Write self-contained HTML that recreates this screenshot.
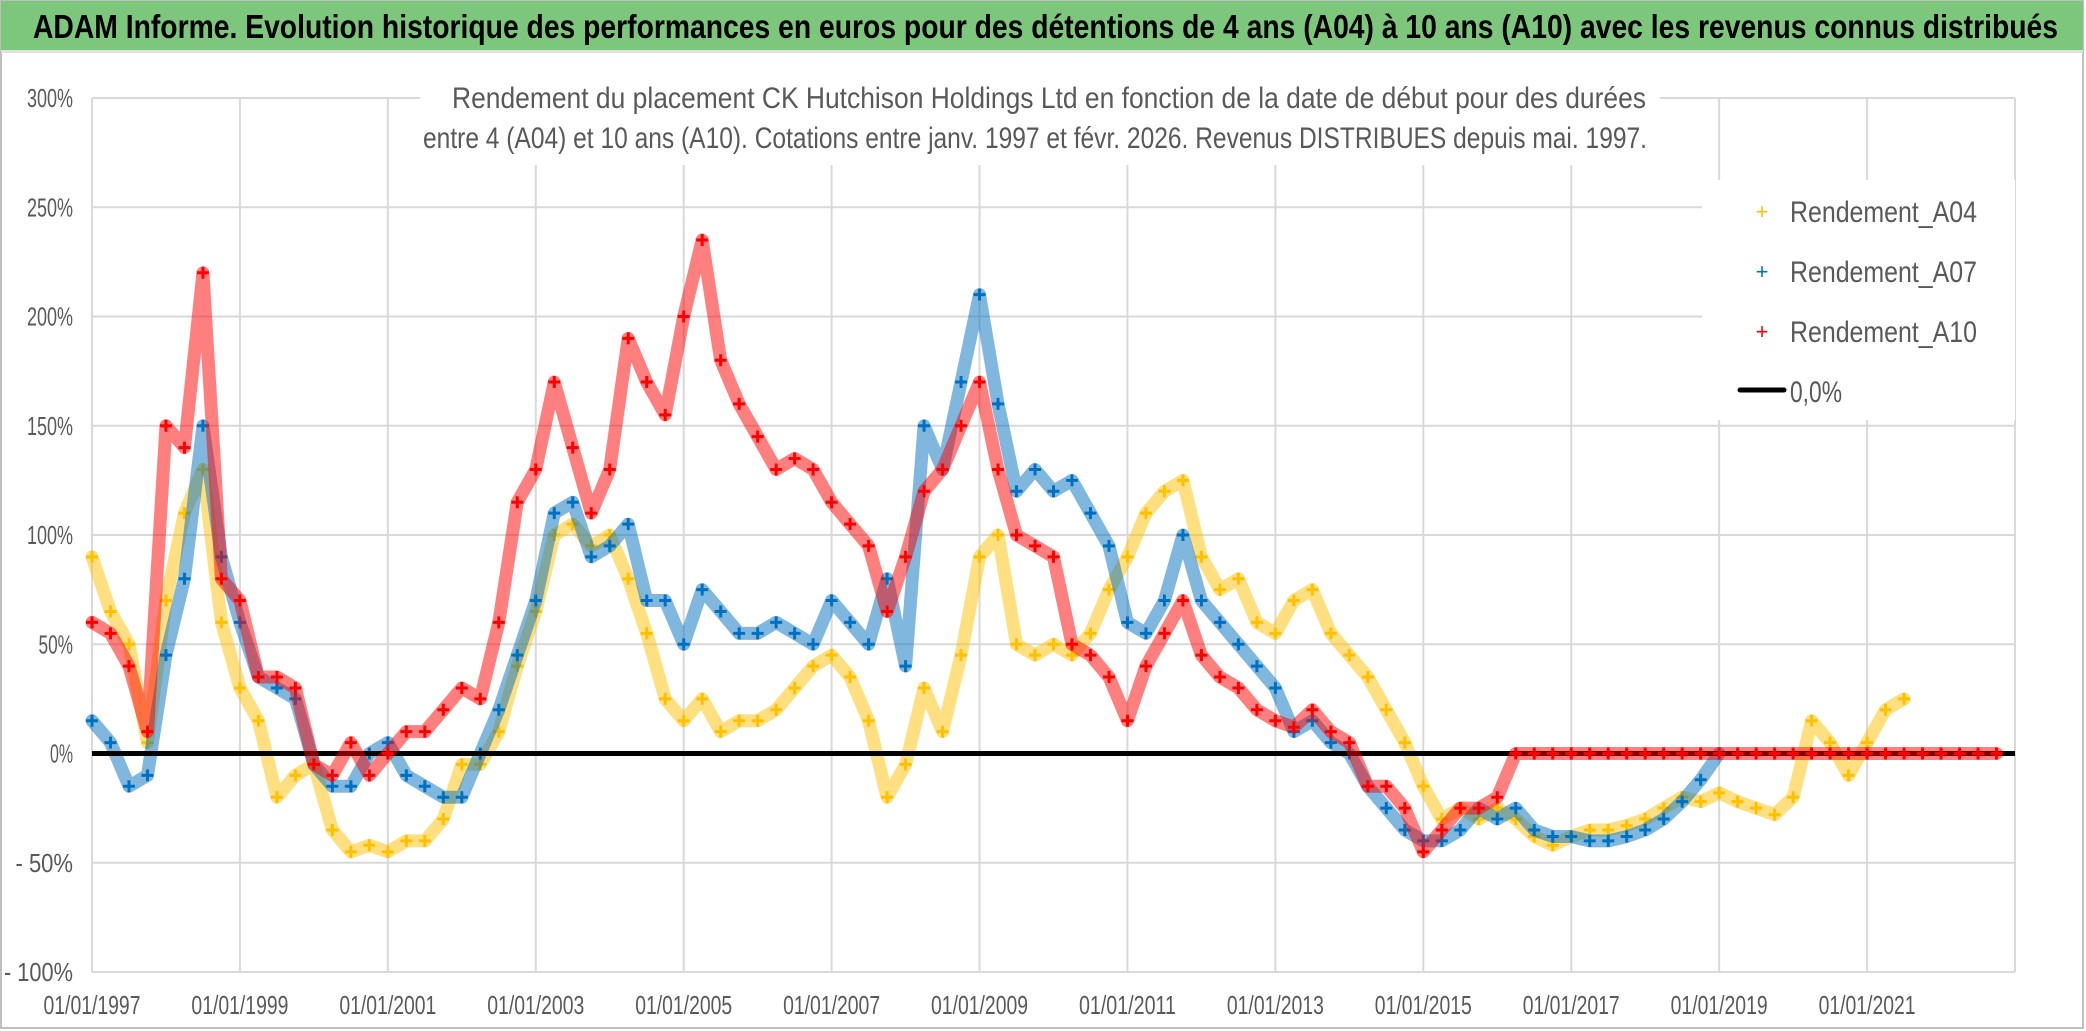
<!DOCTYPE html>
<html><head><meta charset="utf-8"><style>
html,body{margin:0;padding:0;background:#fff;}
svg{display:block;font-family:"Liberation Sans Narrow","Liberation Sans",sans-serif;}
</style></head><body>
<svg id="chart" width="2086" height="1031" viewBox="0 0 2086 1031" xmlns="http://www.w3.org/2000/svg">
<rect x="1" y="1" width="2082" height="1027" fill="#fff" stroke="#bfbfbf" stroke-width="2"/>
<rect x="1" y="1" width="2082" height="49" fill="#7dc77d"/>
<rect x="1" y="50" width="2082" height="3" fill="#e0e0e0"/>
<text x="33" y="38" font-size="33" font-weight="bold" fill="#000" textLength="2025" lengthAdjust="spacingAndGlyphs">ADAM Informe. Evolution historique des performances en euros pour des détentions de 4 ans (A04) à 10 ans (A10) avec les revenus connus distribués</text>
<g id="grid"></g>
<g id="yaxis"></g>
<g id="xaxis"></g>
<rect x="420" y="70" width="1240" height="95" fill="#fff"/>
<text x="1049" y="108" font-size="30" fill="#595959" text-anchor="middle" textLength="1194" lengthAdjust="spacingAndGlyphs">Rendement du placement CK Hutchison Holdings Ltd en fonction de la date de début pour des durées</text>
<text x="1035" y="148" font-size="30" fill="#595959" text-anchor="middle" textLength="1224" lengthAdjust="spacingAndGlyphs">entre 4 (A04) et 10 ans (A10). Cotations entre janv. 1997 et févr. 2026. Revenus DISTRIBUES depuis mai. 1997.</text>
<g id="series"></g>
<g>
<rect x="1702" y="180" width="313" height="240" fill="#fff"/>
<g><text x="1762" y="219" font-size="22" fill="#ffc000" text-anchor="middle">+</text><text x="1790" y="222" font-size="30" fill="#595959" textLength="187" lengthAdjust="spacingAndGlyphs">Rendement_A04</text></g>
<g><text x="1762" y="279" font-size="22" fill="#0070c0" text-anchor="middle">+</text><text x="1790" y="282" font-size="30" fill="#595959" textLength="187" lengthAdjust="spacingAndGlyphs">Rendement_A07</text></g>
<g><text x="1762" y="339" font-size="22" fill="#ff0000" text-anchor="middle">+</text><text x="1790" y="342" font-size="30" fill="#595959" textLength="187" lengthAdjust="spacingAndGlyphs">Rendement_A10</text></g>
<g><line x1="1740" y1="390" x2="1784" y2="390" stroke="#000" stroke-width="5" stroke-linecap="round"/><text x="1790" y="402" font-size="30" fill="#595959" textLength="52" lengthAdjust="spacingAndGlyphs">0,0%</text></g>
</g>
</svg>
<script>
const startYear = 1997;
const stepYear = 0.25;
const yTickValues = [300, 250, 200, 150, 100, 50, 0, -50, -100];
const yTickLabels = ["300%", "250%", "200%", "150%", "100%", "50%", "0%", "- 50%", "- 100%"];
const xTickYears = [1997, 1999, 2001, 2003, 2005, 2007, 2009, 2011, 2013, 2015, 2017, 2019, 2021, 2023];
const xTickLabels = ["01/01/1997", "01/01/1999", "01/01/2001", "01/01/2003", "01/01/2005", "01/01/2007", "01/01/2009", "01/01/2011", "01/01/2013", "01/01/2015", "01/01/2017", "01/01/2019", "01/01/2021", ""];
const rendementA04 = [90,65,50,5,70,110,130,60,30,15,-20,-10,-5,-35,-45,-42,-45,-40,-40,-30,-5,-5,10,40,65,100,105,95,100,80,55,25,15,25,10,15,15,20,30,40,45,35,15,-20,-5,30,10,45,90,100,50,45,50,45,55,75,90,110,120,125,90,75,80,60,55,70,75,55,45,35,20,5,-15,-30,-25,-30,-25,-30,-38,-42,-38,-35,-35,-33,-30,-25,-20,-22,-18,-22,-25,-28,-20,15,5,-10,5,20,25];
const rendementA07 = [15,5,-15,-10,45,80,150,90,60,35,30,25,-5,-15,-15,0,5,-10,-15,-20,-20,0,20,45,70,110,115,90,95,105,70,70,50,75,65,55,55,60,55,50,70,60,50,80,40,150,130,170,210,160,120,130,120,125,110,95,60,55,70,100,70,60,50,40,30,10,15,5,0,-15,-25,-35,-40,-40,-35,-25,-30,-25,-35,-38,-38,-40,-40,-38,-35,-30,-22,-12,0];
const rendementA10 = [60,55,40,10,150,140,220,80,70,35,35,30,-5,-10,5,-10,0,10,10,20,30,25,60,115,130,170,140,110,130,190,170,155,200,235,180,160,145,130,135,130,115,105,95,65,90,120,130,150,170,130,100,95,90,50,45,35,15,40,55,70,45,35,30,20,15,12,20,10,5,-15,-15,-25,-45,-35,-25,-25,-20,0,0,0,0,0,0,0,0,0,0,0,0,0,0,0,0,0,0,0,0,0,0,0,0,0,0,0];

const NS = "http://www.w3.org/2000/svg";
const X0 = 92, X1 = 2015, Y0 = 98, Y1 = 972;
function xScale(yr){ return X0 + (yr - 1997) * (X1 - X0) / 26; }
function yScale(v){ return Y1 - (v + 100) * (Y1 - Y0) / 400; }
function mk(tag, attrs, parent){ const e = document.createElementNS(NS, tag); for (const k in attrs) e.setAttribute(k, attrs[k]); parent.appendChild(e); return e; }

const grid = document.getElementById('grid');
yTickValues.forEach(v => {
  const l = mk('line', {x1:X0, x2:X1, y1:yScale(v), y2:yScale(v), stroke:'#d9d9d9', 'stroke-width':2}, grid);
  
  
});
xTickYears.forEach(yr => {
  const l = mk('line', {x1:xScale(yr), x2:xScale(yr), y1:Y0, y2:Y1, stroke:'#d9d9d9', 'stroke-width':2}, grid);
  
  
});
const yaxis = document.getElementById('yaxis');
yTickValues.forEach((v, i) => {
  const lab = yTickLabels[i];
  const t = mk('text', {x:73, y:yScale(v) + 9, 'font-size':26, fill:'#595959', 'text-anchor':'end', textLength: lab.length * 11.5, lengthAdjust:'spacingAndGlyphs'}, yaxis);
  t.textContent = lab;
  
  
});
const xaxis = document.getElementById('xaxis');
xTickYears.forEach((yr, i) => {
  if (!xTickLabels[i]) return;
  const t = mk('text', {x:xScale(yr), y:1014, 'font-size':26, fill:'#595959', 'text-anchor':'middle', textLength:97, lengthAdjust:'spacingAndGlyphs'}, xaxis);
  t.textContent = xTickLabels[i];
  
  
});

const layer = document.getElementById('series');
function drawSeries(vals, color, name){
  const g = mk('g', {}, layer);
  
  
  let pts = [];
  const segs = [];
  vals.forEach((v, i) => {
    if (v === null || v === undefined) { if (pts.length) segs.push(pts); pts = []; return; }
    pts.push([xScale(startYear + i * stepYear), yScale(v)]);
  });
  if (pts.length) segs.push(pts);
  segs.forEach(s => {
    const p = mk('polyline', {points:s.map(q => q.join(',')).join(' '), fill:'none', stroke:color, 'stroke-width':13, 'stroke-opacity':0.5, 'stroke-linejoin':'round', 'stroke-linecap':'round'}, g);
    
    
  });
  vals.forEach((v, i) => {
    if (v === null || v === undefined) return;
    const x = xScale(startYear + i * stepYear), y = yScale(v);
    const m = mk('path', {d:`M${x-6},${y}H${x+6}M${x},${y-6}V${y+6}`, stroke:color, 'stroke-width':3}, g);
    
    
  });
}
drawSeries(rendementA04, '#ffc000', 'series-a04');
drawSeries(rendementA07, '#0070c0', 'series-a07');
const zl = mk('line', {x1:X0, x2:X1, y1:yScale(0), y2:yScale(0), stroke:'#000', 'stroke-width':5}, layer);


drawSeries(rendementA10, '#ff0000', 'series-a10');
</script>
</body></html>
